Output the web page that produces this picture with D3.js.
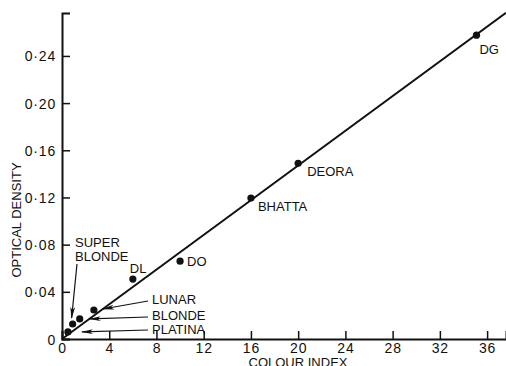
<!DOCTYPE html>
<meta charset="utf-8">
<script src="https://d3js.org/d3.v7.min.js"></script>
<style>
  body { margin: 0; background: #fff; }
  text { font-family: "Liberation Sans", Arial, sans-serif; fill: #111; }
</style>
<div id="chart"></div>
<script>
// data
var names = ["PLATINA", "SUPER BLONDE", "BLONDE", "LUNAR", "DL", "DO", "BHATTA", "DEORA", "DG"]
var colourIndex = [0.5, 0.9, 1.5, 2.7, 6, 10, 16, 20, 35.1]
var opticalDensity = [0.006, 0.0127, 0.017, 0.0246, 0.0508, 0.066, 0.1195, 0.149, 0.2576]

var xTicks = [0, 4, 8, 12, 16, 20, 24, 28, 32, 36]
var yTicks = [0, 0.04, 0.08, 0.12, 0.16, 0.20, 0.24]

// fitted straight line through the origin
var fitX = [0, 37.6]
var fitY = [0, 0.2765]

var width = 506, height = 366
var svg = d3.select("#chart").append("svg").attr("width", width).attr("height", height)

var x = d3.scaleLinear().domain([0, 37.6]).range([62, 506])
var y = d3.scaleLinear().domain([0, 0.2764]).range([339, 13])

var points = names.map(function(n, i){ return {name: n, x: colourIndex[i], y: opticalDensity[i]} })

svg.append("defs").append("marker")
  .attr("id", "head").attr("viewBox", "0 0 12 6")
  .attr("refX", 11).attr("refY", 3)
  .attr("markerWidth", 12).attr("markerHeight", 6)
  .attr("markerUnits", "userSpaceOnUse")
  .attr("orient", "auto")
  .append("path").attr("d", "M0,0.6 L12,3 L0,5.4 L3,3 Z").attr("fill", "#111")

// axes
var xAxis = d3.axisBottom(x).tickValues(xTicks).tickSize(-8).tickPadding(4)
  .tickFormat(function(d){ return d })
var yAxis = d3.axisLeft(y).tickValues(yTicks).tickSize(-8).tickPadding(6)
  .tickFormat(function(d){ return d == 0 ? "0" : d3.format(".2f")(d).replace(".", "·") })

var gx = svg.append("g").attr("transform", "translate(0," + y(0) + ")").call(xAxis)
var gy = svg.append("g").attr("transform", "translate(" + x(0) + ",0)").call(yAxis)
;[gx, gy].forEach(function(g){
  g.select(".domain").attr("stroke", "#111").attr("stroke-width", 2)
  g.selectAll(".tick line").attr("stroke", "#111").attr("stroke-width", 1.5)
  g.selectAll(".tick text").attr("font-size", 14).attr("letter-spacing", 0.8)
    .attr("font-family", "Liberation Sans").attr("fill", "#111")
})
gy.selectAll(".tick text").attr("dy", "0.36em")

svg.append("text").text("COLOUR INDEX").attr("x", 298).attr("y", 367)
  .attr("text-anchor", "middle").attr("font-size", 13)
svg.append("text").text("OPTICAL DENSITY")
  .attr("transform", "translate(21,220) rotate(-90)")
  .attr("text-anchor", "middle").attr("font-size", 13)

// fitted line
svg.append("line")
  .attr("x1", x(fitX[0])).attr("y1", y(fitY[0]))
  .attr("x2", x(fitX[1])).attr("y2", y(fitY[1]))
  .attr("stroke", "#111").attr("stroke-width", 2)

// points
svg.selectAll(".pt").data(points).join("circle")
  .attr("cx", function(d){ return x(d.x) }).attr("cy", function(d){ return y(d.y) })
  .attr("r", 3.6).attr("fill", "#111")

// direct labels (pixel offsets from the point)
var direct = {"DL": [-3, -6], "DO": [7, 5], "BHATTA": [7, 13], "DEORA": [9, 13], "DG": [3, 19]}
svg.selectAll(".lab").data(points.filter(function(d){ return direct[d.name] })).join("text")
  .text(function(d){ return d.name })
  .attr("x", function(d){ return x(d.x) + direct[d.name][0] })
  .attr("y", function(d){ return y(d.y) + direct[d.name][1] })
  .attr("font-size", 13)

// callouts with arrows: text position, arrow tail, arrow head offset from point
var callouts = [
  {name: "LUNAR", tx: 152, ty: 304, ax: 148, ay: 301, hx: 9, hy: -1},
  {name: "BLONDE", tx: 152, ty: 320, ax: 148, ay: 317, hx: 10, hy: 0},
  {name: "PLATINA", tx: 152, ty: 334, ax: 148, ay: 330, hx: 14, hy: 0},
  {name: "SUPER BLONDE", tx: 75, ty: 247, ax: 77, ay: 264, hx: -1, hy: -6}
]
callouts.forEach(function(c){
  var p = points.find(function(d){ return d.name == c.name })
  var t = svg.append("text").attr("x", c.tx).attr("y", c.ty).attr("font-size", 13)
  if(c.name == "SUPER BLONDE"){
    t.append("tspan").attr("x", c.tx).text("SUPER")
    t.append("tspan").attr("x", c.tx).attr("dy", 14).text("BLONDE")
  }else{
    t.text(c.name)
  }
  svg.append("line")
    .attr("x1", c.ax).attr("y1", c.ay)
    .attr("x2", x(p.x) + c.hx).attr("y2", y(p.y) + c.hy)
    .attr("stroke", "#111").attr("stroke-width", 1.2)
    .attr("marker-end", "url(#head)")
})
</script>
